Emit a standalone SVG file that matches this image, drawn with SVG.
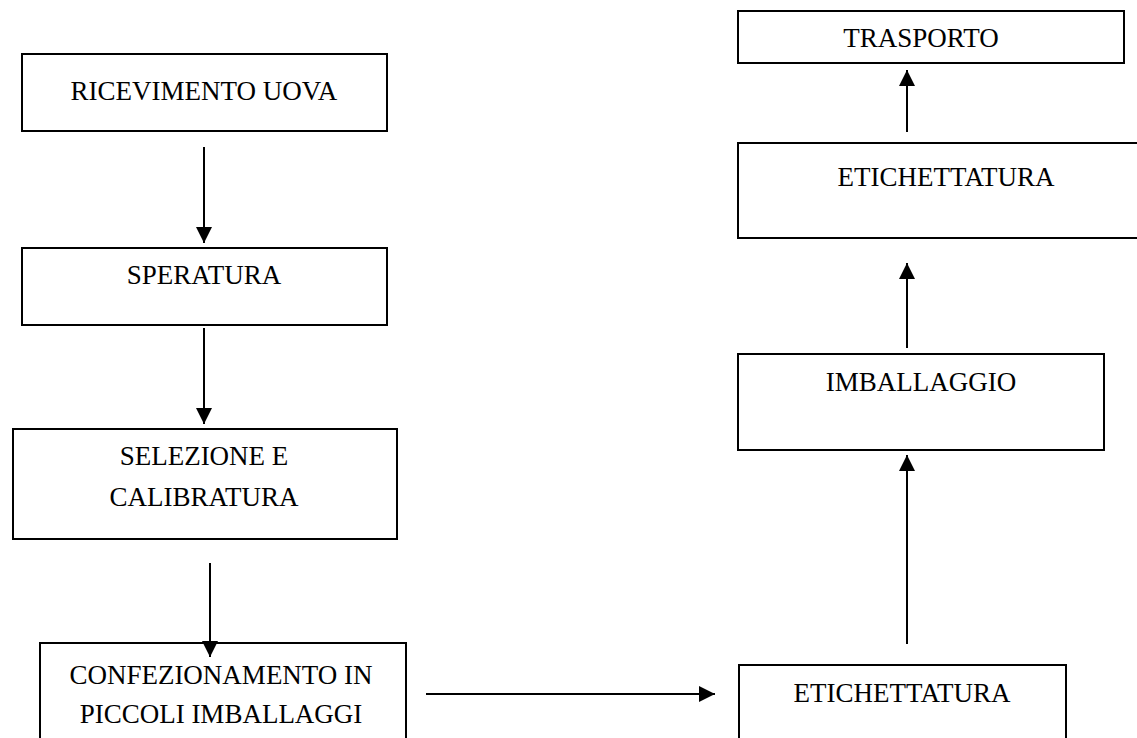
<svg xmlns="http://www.w3.org/2000/svg" width="1137" height="738" viewBox="0 0 1137 738">
  <style>
    .box { fill: #ffffff; stroke: #000000; stroke-width: 2; }
    .lbl { font-family: "Liberation Serif", "Times New Roman", serif; font-size: 27px; fill: #000000; text-anchor: middle; }
    .conn { stroke: #000000; stroke-width: 2; fill: none; marker-end: url(#head); }
  </style>
  <defs>
    <marker id="head" markerUnits="userSpaceOnUse" markerWidth="16" markerHeight="16" refX="16" refY="8" orient="auto">
      <path d="M0,0 L16,8 L0,16 Z" fill="#000000"/>
    </marker>
  </defs>
  <rect width="1137" height="738" fill="#ffffff"/>

  <!-- left column -->
  <g id="ricevimento">
    <rect class="box" x="22" y="54" width="365" height="77"/>
    <text class="lbl" x="204" y="100">RICEVIMENTO UOVA</text>
  </g>
  <g id="speratura">
    <rect class="box" x="22" y="248" width="365" height="77"/>
    <text class="lbl" x="204" y="284">SPERATURA</text>
  </g>
  <g id="selezione">
    <rect class="box" x="13" y="429" width="384" height="110"/>
    <text class="lbl" x="204" y="465">SELEZIONE E</text>
    <text class="lbl" x="204" y="506">CALIBRATURA</text>
  </g>
  <g id="confezionamento">
    <rect class="box" x="40" y="643" width="366" height="110"/>
    <text class="lbl" x="221" y="684">CONFEZIONAMENTO IN</text>
    <text class="lbl" x="221" y="723">PICCOLI IMBALLAGGI</text>
  </g>

  <!-- right column -->
  <g id="etichettatura-1">
    <rect class="box" x="739" y="665" width="327" height="90"/>
    <text class="lbl" x="902" y="702">ETICHETTATURA</text>
  </g>
  <g id="imballaggio">
    <rect class="box" x="738" y="354" width="366" height="96"/>
    <text class="lbl" x="921" y="391">IMBALLAGGIO</text>
  </g>
  <g id="etichettatura-2">
    <path class="box" d="M1140,143 H738 V238 H1140" />
    <text class="lbl" x="946" y="186">ETICHETTATURA</text>
  </g>
  <g id="trasporto">
    <rect class="box" x="738" y="11" width="386" height="52"/>
    <text class="lbl" x="921" y="47">TRASPORTO</text>
  </g>

  <!-- flow connectors -->
  <g id="connectors">
    <line class="conn" x1="204" y1="147" x2="204" y2="243"/>
    <line class="conn" x1="204" y1="328" x2="204" y2="424"/>
    <line class="conn" x1="210" y1="563" x2="210" y2="657"/>
    <line class="conn" x1="426" y1="694" x2="715" y2="694"/>
    <line class="conn" x1="907" y1="644" x2="907" y2="455"/>
    <line class="conn" x1="907" y1="348" x2="907" y2="263"/>
    <line class="conn" x1="907" y1="132" x2="907" y2="70"/>
  </g>
</svg>
